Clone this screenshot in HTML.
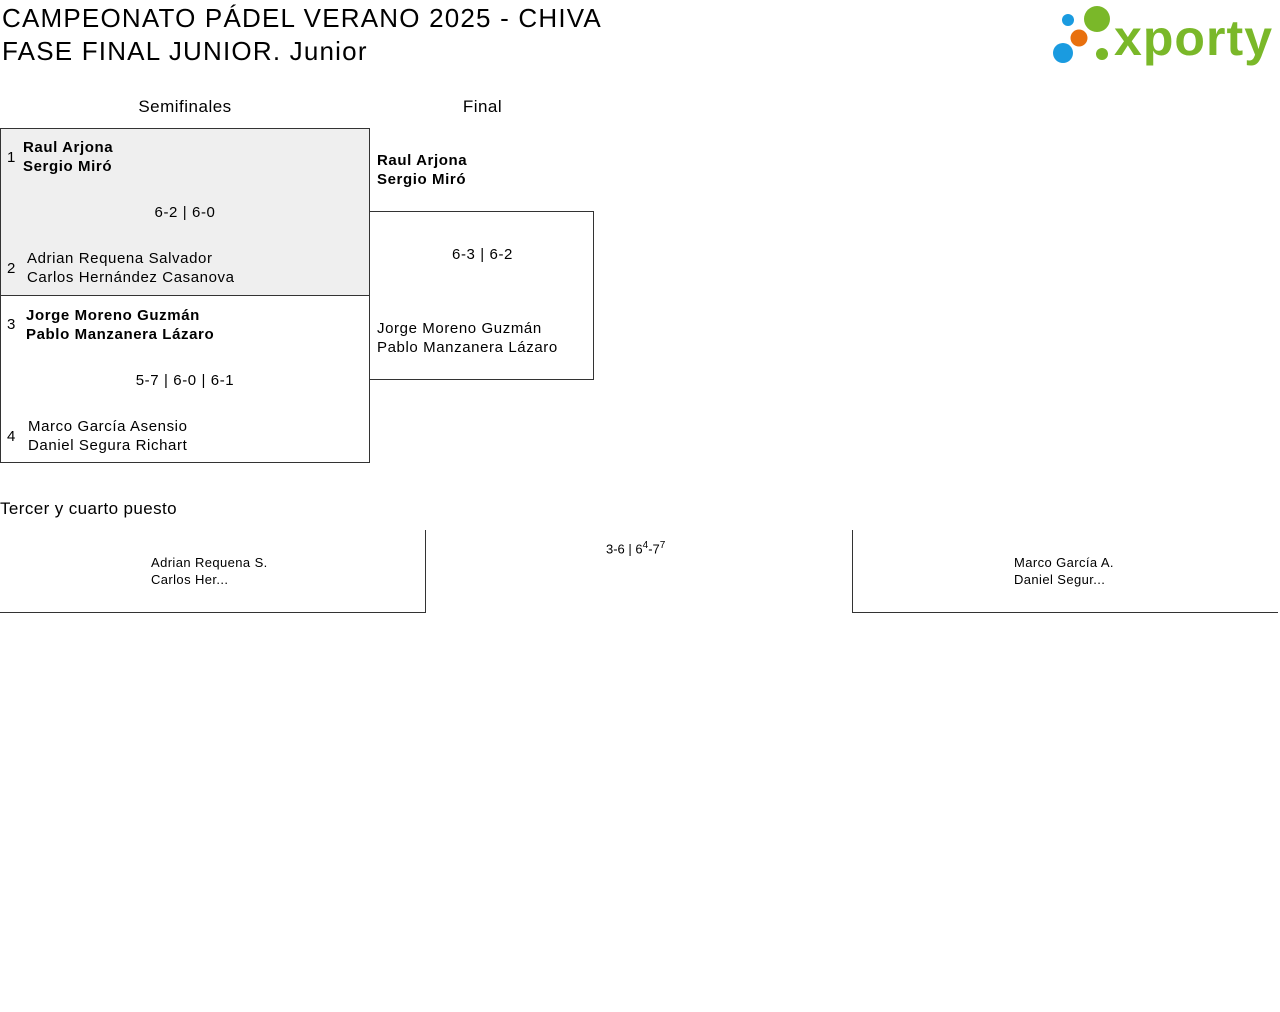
<!DOCTYPE html>
<html><head><meta charset="utf-8"><style>
body{margin:0;width:1280px;height:1012px;background:#fff;font-family:"Liberation Sans",sans-serif;color:#000;position:relative;overflow:hidden}
.a{position:absolute;white-space:nowrap}
.b{font-weight:bold}
.n{font-size:15px;line-height:19px;letter-spacing:0.6px}
</style></head><body>
<div class="a" style="left:2px;top:2px;font-size:26px;line-height:33px;letter-spacing:1.2px">CAMPEONATO PÁDEL VERANO 2025 - CHIVA<br>FASE FINAL JUNIOR. Junior</div>
<svg class="a" style="left:1050px;top:3px" width="230" height="64">
<circle cx="18" cy="17" r="6" fill="#1a9be0"/>
<circle cx="47" cy="16" r="13" fill="#7ab829"/>
<circle cx="29" cy="35" r="8.5" fill="#e8700e"/>
<circle cx="13" cy="50" r="10" fill="#1a9be0"/>
<circle cx="52" cy="51" r="6" fill="#7ab829"/>
<text x="64" y="52" font-family="Liberation Sans" font-weight="bold" font-size="50" fill="#7ab829" textLength="158">xporty</text>
</svg>
<div class="a" style="left:0;width:370px;text-align:center;top:97px;font-size:17px;letter-spacing:0.5px">Semifinales</div>
<div class="a" style="left:370px;width:225px;text-align:center;top:97px;font-size:17px;letter-spacing:0.5px">Final</div>
<div class="a" style="left:0;top:128px;width:368px;height:166px;background:#efefef;border:1px solid #333"></div>
<div class="a" style="left:0;top:295px;width:368px;height:167px;border:1px solid #333;border-top:none"></div>
<div class="a" style="left:369px;top:211px;width:224px;height:167px;border:1px solid #333;border-left:none"></div>
<div class="a n" style="left:7px;top:148px">1</div>
<div class="a n b" style="left:23px;top:138px">Raul Arjona<br>Sergio Miró</div>
<div class="a n" style="left:0;width:370px;text-align:center;top:203px">6-2 | 6-0</div>
<div class="a n" style="left:7px;top:259px">2</div>
<div class="a n" style="left:27px;top:249px">Adrian Requena Salvador<br>Carlos Hernández Casanova</div>
<div class="a n" style="left:7px;top:315px">3</div>
<div class="a n b" style="left:26px;top:306px">Jorge Moreno Guzmán<br>Pablo Manzanera Lázaro</div>
<div class="a n" style="left:0;width:370px;text-align:center;top:371px">5-7 | 6-0 | 6-1</div>
<div class="a n" style="left:7px;top:427px">4</div>
<div class="a n" style="left:28px;top:417px">Marco García Asensio<br>Daniel Segura Richart</div>
<div class="a n b" style="left:377px;top:151px">Raul Arjona<br>Sergio Miró</div>
<div class="a n" style="left:370px;width:225px;text-align:center;top:245px">6-3 | 6-2</div>
<div class="a n" style="left:377px;top:319px">Jorge Moreno Guzmán<br>Pablo Manzanera Lázaro</div>
<div class="a" style="left:0;top:499px;font-size:17px;letter-spacing:0.4px">Tercer y cuarto puesto</div>
<div class="a" style="left:0;top:530px;width:425px;height:82px;border-right:1px solid #333;border-bottom:1px solid #333"></div>
<div class="a" style="left:852px;top:530px;width:425px;height:82px;border-left:1px solid #333;border-bottom:1px solid #333"></div>
<div class="a" style="left:151px;top:554px;font-size:13px;line-height:17px;letter-spacing:0.4px">Adrian Requena S.<br>Carlos Her...</div>
<div class="a" style="left:606px;top:540px;font-size:13px">3-6 | 6<sup style="font-size:10px">4</sup>-7<sup style="font-size:10px">7</sup></div>
<div class="a" style="left:1014px;top:554px;font-size:13px;line-height:17px;letter-spacing:0.4px">Marco García A.<br>Daniel Segur...</div>
</body></html>
